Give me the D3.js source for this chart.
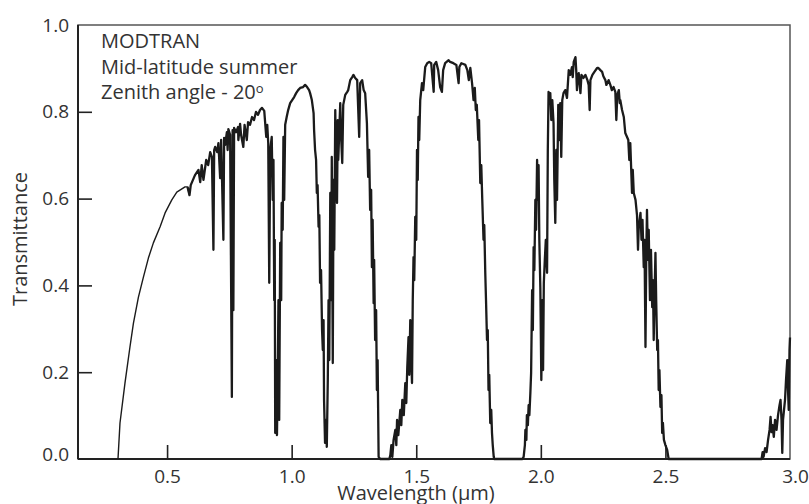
<!DOCTYPE html>
<html>
<head>
<meta charset="utf-8">
<script src="https://cdn.jsdelivr.net/npm/d3@7"></script>
<style>
  body { margin: 0; background: #fff; }
  svg text { font-family: "Open Sans", sans-serif; fill: #333; }
</style>
</head>
<body>
<div id="chart"></div>
<script>
// MODTRAN transmittance
const wavelength = [
  0.303, 0.311, 0.331, 0.351, 0.365, 0.385, 0.405, 0.425, 0.445, 0.472, 0.492, 0.519, 0.539, 0.572, 0.582, 0.590, 0.595, 0.612, 0.626, 0.633,
  0.639, 0.646, 0.657, 0.665, 0.673, 0.680, 0.686, 0.689, 0.693, 0.701, 0.706, 0.713, 0.717, 0.726, 0.729, 0.733, 0.740, 0.743, 0.746, 0.753,
  0.760, 0.763, 0.766, 0.769, 0.777, 0.785, 0.786, 0.793, 0.797, 0.806, 0.811, 0.820, 0.825, 0.833, 0.841, 0.849, 0.857, 0.865, 0.873, 0.881,
  0.890, 0.898, 0.902, 0.906, 0.910, 0.914, 0.920, 0.924, 0.927, 0.930, 0.932, 0.934, 0.938, 0.941, 0.944, 0.947, 0.950, 0.954, 0.958, 0.960,
  0.964, 0.967, 0.970, 0.974, 0.980, 0.986, 0.994, 1.002, 1.010, 1.018, 1.026, 1.034, 1.046, 1.054, 1.062, 1.070, 1.074, 1.081, 1.088, 1.090,
  1.094, 1.098, 1.101, 1.104, 1.108, 1.111, 1.114, 1.118, 1.122, 1.125, 1.128, 1.130, 1.134, 1.138, 1.141, 1.145, 1.148, 1.151, 1.155, 1.159,
  1.161, 1.165, 1.168, 1.171, 1.175, 1.179, 1.182, 1.185, 1.187, 1.195, 1.199, 1.203, 1.207, 1.215, 1.223, 1.227, 1.235, 1.243, 1.248, 1.255,
  1.263, 1.271, 1.275, 1.283, 1.289, 1.295, 1.302, 1.307, 1.311, 1.315, 1.319, 1.322, 1.325, 1.329, 1.331, 1.335, 1.339, 1.342, 1.345, 1.349,
  1.355, 1.392, 1.396, 1.400, 1.404, 1.409, 1.416, 1.420, 1.423, 1.428, 1.436, 1.440, 1.444, 1.450, 1.456, 1.460, 1.464, 1.469, 1.472, 1.476,
  1.480, 1.483, 1.486, 1.489, 1.492, 1.496, 1.500, 1.503, 1.506, 1.509, 1.512, 1.516, 1.523, 1.528, 1.536, 1.544, 1.552, 1.560, 1.570, 1.572,
  1.580, 1.588, 1.596, 1.603, 1.608, 1.616, 1.630, 1.636, 1.649, 1.661, 1.670, 1.673, 1.681, 1.689, 1.697, 1.705, 1.711, 1.717, 1.724, 1.730,
  1.735, 1.739, 1.743, 1.749, 1.752, 1.757, 1.761, 1.765, 1.770, 1.773, 1.777, 1.780, 1.784, 1.787, 1.790, 1.793, 1.797, 1.801, 1.804, 1.807,
  1.811, 1.813, 1.926, 1.931, 1.936, 1.938, 1.942, 1.944, 1.948, 1.951, 1.954, 1.958, 1.961, 1.965, 1.968, 1.971, 1.974, 1.978, 1.981, 1.985,
  1.988, 1.991, 1.994, 1.998, 2.002, 2.006, 2.009, 2.012, 2.016, 2.020, 2.025, 2.028, 2.031, 2.036, 2.038, 2.042, 2.046, 2.051, 2.054, 2.058,
  2.062, 2.065, 2.070, 2.074, 2.078, 2.082, 2.086, 2.091, 2.098, 2.105, 2.112, 2.118, 2.125, 2.128, 2.132, 2.139, 2.142, 2.145, 2.149, 2.152,
  2.159, 2.163, 2.171, 2.179, 2.187, 2.192, 2.196, 2.199, 2.207, 2.215, 2.226, 2.231, 2.239, 2.246, 2.251, 2.259, 2.263, 2.272, 2.279, 2.285,
  2.292, 2.299, 2.303, 2.307, 2.313, 2.317, 2.319, 2.326, 2.333, 2.339, 2.346, 2.351, 2.355, 2.359, 2.366, 2.369, 2.373, 2.380, 2.386, 2.390,
  2.393, 2.400, 2.404, 2.408, 2.413, 2.416, 2.420, 2.423, 2.426, 2.430, 2.433, 2.438, 2.442, 2.447, 2.450, 2.453, 2.456, 2.460, 2.463, 2.467,
  2.470, 2.473, 2.476, 2.480, 2.484, 2.487, 2.490, 2.494, 2.500, 2.507, 2.513, 2.886, 2.890, 2.894, 2.900, 2.906, 2.912, 2.918, 2.922, 2.926,
  2.930, 2.935, 2.940, 2.946, 2.952, 2.958, 2.962, 2.966, 2.969, 2.972, 2.976, 2.980, 2.984, 2.989, 2.992, 2.995, 2.998, 3.000
];
const transmittance = [
  0.000, 0.083, 0.175, 0.258, 0.313, 0.373, 0.419, 0.463, 0.498, 0.535, 0.567, 0.597, 0.615, 0.627, 0.627, 0.608, 0.631, 0.654, 0.666, 0.638,
  0.677, 0.643, 0.689, 0.677, 0.707, 0.696, 0.482, 0.712, 0.719, 0.707, 0.728, 0.647, 0.735, 0.505, 0.740, 0.724, 0.753, 0.712, 0.760, 0.747,
  0.143, 0.758, 0.343, 0.763, 0.753, 0.765, 0.735, 0.772, 0.747, 0.719, 0.770, 0.735, 0.776, 0.770, 0.788, 0.781, 0.800, 0.793, 0.804, 0.809,
  0.802, 0.742, 0.770, 0.728, 0.406, 0.712, 0.742, 0.597, 0.689, 0.366, 0.505, 0.060, 0.228, 0.055, 0.182, 0.366, 0.090, 0.498, 0.366, 0.590,
  0.528, 0.742, 0.597, 0.770, 0.788, 0.804, 0.820, 0.827, 0.834, 0.843, 0.850, 0.855, 0.857, 0.862, 0.857, 0.850, 0.843, 0.827, 0.797, 0.758,
  0.712, 0.689, 0.613, 0.631, 0.535, 0.562, 0.406, 0.435, 0.297, 0.251, 0.320, 0.136, 0.037, 0.090, 0.028, 0.182, 0.366, 0.228, 0.613, 0.366,
  0.696, 0.221, 0.643, 0.482, 0.804, 0.643, 0.590, 0.781, 0.689, 0.820, 0.735, 0.682, 0.816, 0.839, 0.846, 0.850, 0.873, 0.880, 0.885, 0.878,
  0.873, 0.742, 0.866, 0.873, 0.850, 0.843, 0.774, 0.650, 0.712, 0.574, 0.620, 0.442, 0.551, 0.359, 0.459, 0.274, 0.343, 0.159, 0.228, 0.005,
  0.000, 0.000, 0.009, 0.032, 0.005, 0.044, 0.067, 0.032, 0.090, 0.055, 0.113, 0.078, 0.136, 0.101, 0.175, 0.129, 0.212, 0.281, 0.194, 0.320,
  0.228, 0.175, 0.366, 0.465, 0.412, 0.558, 0.505, 0.712, 0.643, 0.788, 0.735, 0.827, 0.866, 0.850, 0.903, 0.912, 0.915, 0.912, 0.846, 0.908,
  0.915, 0.896, 0.857, 0.846, 0.896, 0.912, 0.919, 0.915, 0.912, 0.908, 0.866, 0.903, 0.912, 0.910, 0.908, 0.896, 0.873, 0.901, 0.866, 0.827,
  0.855, 0.804, 0.816, 0.735, 0.781, 0.636, 0.677, 0.597, 0.505, 0.539, 0.429, 0.366, 0.274, 0.297, 0.159, 0.194, 0.083, 0.113, 0.060, 0.032,
  0.005, 0.000, 0.000, 0.005, 0.032, 0.067, 0.044, 0.101, 0.078, 0.124, 0.101, 0.152, 0.198, 0.389, 0.297, 0.488, 0.435, 0.597, 0.528, 0.689,
  0.597, 0.677, 0.505, 0.396, 0.182, 0.366, 0.205, 0.406, 0.459, 0.505, 0.429, 0.712, 0.846, 0.827, 0.843, 0.781, 0.827, 0.774, 0.643, 0.544,
  0.712, 0.597, 0.816, 0.735, 0.820, 0.696, 0.827, 0.843, 0.850, 0.832, 0.896, 0.885, 0.903, 0.880, 0.915, 0.926, 0.896, 0.850, 0.885, 0.889,
  0.843, 0.885, 0.878, 0.885, 0.873, 0.862, 0.804, 0.873, 0.885, 0.892, 0.901, 0.901, 0.896, 0.892, 0.882, 0.873, 0.862, 0.873, 0.862, 0.850,
  0.857, 0.846, 0.781, 0.839, 0.850, 0.820, 0.827, 0.804, 0.788, 0.751, 0.742, 0.735, 0.689, 0.728, 0.613, 0.666, 0.613, 0.597, 0.562, 0.482,
  0.535, 0.567, 0.505, 0.551, 0.442, 0.505, 0.258, 0.459, 0.574, 0.459, 0.528, 0.366, 0.482, 0.350, 0.412, 0.274, 0.366, 0.475, 0.366, 0.251,
  0.274, 0.159, 0.205, 0.120, 0.147, 0.060, 0.083, 0.044, 0.032, 0.021, 0.000, 0.000, 0.016, 0.005, 0.025, 0.016, 0.044, 0.067, 0.097, 0.062,
  0.078, 0.051, 0.090, 0.067, 0.101, 0.124, 0.136, 0.090, 0.014, 0.090, 0.113, 0.136, 0.182, 0.228, 0.159, 0.113, 0.251, 0.280
];

const xTicks = [0.5, 1.0, 1.5, 2.0, 2.5, 3.0];
const yTicks = [0.0, 0.2, 0.4, 0.6, 0.8, 1.0];
const noteLines = ["MODTRAN", "Mid-latitude summer", "Zenith angle - 20"];
const xTitle = "Wavelength (\u00b5m)";
const yTitle = "Transmittance";

const width = 809, height = 504;
const margin = { left: 78, right: 19, top: 25, bottom: 45 };
const innerWidth = width - margin.left - margin.right;
const innerHeight = height - margin.top - margin.bottom;

const data = wavelength.map((w, i) => ({ w: w, t: transmittance[i] }));

const svg = d3.select("#chart").append("svg")
  .attr("width", width)
  .attr("height", height);

const g = svg.append("g")
  .attr("transform", `translate(${margin.left},${margin.top})`);

const xScale = d3.scaleLinear().domain([0.1425, 3.0]).range([0, innerWidth]);
const yScale = d3.scaleLinear().domain([0, 1]).range([innerHeight, 0]);

// axes: ticks point into the plot
const xAxis = g.append("g")
  .attr("class", "x-axis")
  .attr("transform", `translate(0,${innerHeight})`)
  .call(d3.axisBottom(xScale).tickValues(xTicks).tickFormat(d3.format(".1f"))
    .tickSizeInner(-14).tickSizeOuter(0).tickPadding(6));

const yAxis = g.append("g")
  .attr("class", "y-axis")
  .call(d3.axisLeft(yScale).tickValues(yTicks).tickFormat(d3.format(".1f"))
    .tickSizeInner(-14).tickSizeOuter(0).tickPadding(9));

svg.selectAll(".domain").remove();
xAxis.selectAll(".tick line").attr("stroke", "#222").attr("stroke-width", 1.6)
  .filter((d) => d === 3.0).remove();
yAxis.selectAll(".tick line").attr("stroke", "#222").attr("stroke-width", 1.6)
  .filter((d) => d === 0 || d === 1).remove();
svg.selectAll(".tick text")
  .attr("fill", "#333")
  .style("font-size", "19px")
  .style("font-family", "'Open Sans', sans-serif");
xAxis.selectAll(".tick text").attr("dy", "0.95em");
yAxis.selectAll(".tick text").filter((d) => d === 0).attr("dy", "0.1em");
xAxis.selectAll(".tick text").filter((d) => d === 3.0).attr("dx", 5);

// frame
g.append("rect")
  .attr("x", 0).attr("y", 0)
  .attr("width", innerWidth).attr("height", innerHeight)
  .attr("fill", "none")
  .attr("stroke", "#555")
  .attr("stroke-width", 1.5);
g.append("line")
  .attr("x1", 0).attr("x2", 0).attr("y1", 0).attr("y2", innerHeight)
  .attr("stroke", "#222").attr("stroke-width", 2);
g.append("line")
  .attr("x1", 0).attr("x2", innerWidth).attr("y1", innerHeight).attr("y2", innerHeight)
  .attr("stroke", "#222").attr("stroke-width", 2);

// spectrum: the smooth UV/visible rise is drawn thinner than the dense band region
const line = d3.line()
  .curve(d3.curveLinear)
  .x((d) => xScale(d.w))
  .y((d) => yScale(d.t));

g.append("path")
  .datum(data.filter((d) => d.w <= 0.59))
  .attr("d", line)
  .attr("fill", "none")
  .attr("stroke", "#1b1b1b")
  .attr("stroke-width", 1.4)
  .attr("stroke-linejoin", "round");

g.append("path")
  .datum(data.filter((d) => d.w >= 0.582))
  .attr("d", line)
  .attr("fill", "none")
  .attr("stroke", "#1b1b1b")
  .attr("stroke-width", 2.3)
  .attr("stroke-linejoin", "round");

// annotation
const note = g.append("text")
  .attr("x", 23)
  .style("font-size", "20px")
  .attr("fill", "#2a2a2a");
noteLines.forEach((txt, i) => {
  note.append("tspan")
    .attr("x", 23)
    .attr("y", 23 + i * 25.5)
    .text(txt);
});
note.append("tspan")
  .attr("dy", -6)
  .style("font-size", "13px")
  .text("o");

// titles
svg.append("text")
  .attr("x", 416)
  .attr("y", 500)
  .attr("text-anchor", "middle")
  .style("font-size", "20px")
  .text(xTitle);

svg.append("text")
  .attr("transform", "translate(27,239) rotate(-90)")
  .attr("text-anchor", "middle")
  .style("font-size", "20px")
  .text(yTitle);
</script>
</body>
</html>
